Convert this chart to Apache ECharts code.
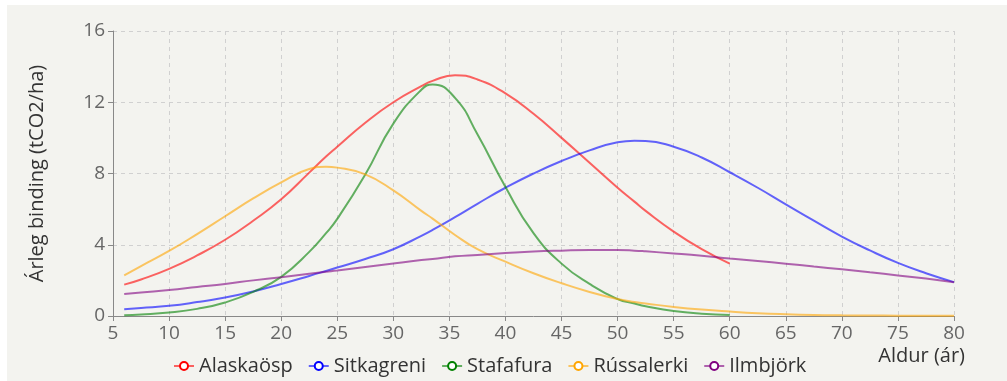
<!DOCTYPE html>
<html>
<head>
<meta charset="utf-8">
<script src="https://cdn.jsdelivr.net/npm/echarts@6/dist/echarts.min.js"></script>
<style>
  html, body { margin: 0; padding: 0; background: #ffffff; }
  #chart {
    position: absolute;
    left: 7px;
    top: 5px;
    width: 1000px;
    height: 376px;
    background: #f3f3ef;
  }
</style>
</head>
<body>
<div id="chart"></div>
<script>
// aldur (ár)
var ages = [6, 7.5, 10, 12.5, 15, 17.5, 20, 22.5, 24, 25, 27.5, 30, 32.5, 33.5, 35.5, 37.5, 40,
  42.5, 45, 47.5, 50, 51.5, 52.5, 55, 57.5, 60, 62.5, 65, 67.5, 70, 72.5, 75, 77.5, 80];

// árleg binding (tCO2/ha)
var alaskaosp = [1.76, 2.05, 2.65, 3.4, 4.28, 5.35, 6.55, 8.05, 8.95, 9.5, 10.85, 12.0, 12.9, 13.2, 13.52, 13.28, 12.5,
  11.35, 10.0, 8.6, 7.2, 6.42, 5.9, 4.74, 3.75, 2.94];
var sitkagreni = [0.38, 0.45, 0.57, 0.78, 1.04, 1.38, 1.8, 2.25, 2.53, 2.72, 3.2, 3.75, 4.5, 4.83, 5.55, 6.3, 7.2,
  8.0, 8.7, 9.3, 9.75, 9.84, 9.83, 9.5, 8.9, 8.07, 7.2, 6.27, 5.35, 4.46, 3.68, 2.98, 2.4, 1.9];
var stafafura = [0.04, 0.08, 0.19, 0.4, 0.76, 1.35, 2.2, 3.6, 4.65, 5.45, 7.95, 10.8, 12.7, 13.0, 12.25, 10.2, 7.24,
  4.65, 2.94, 1.8, 0.95, 0.7, 0.55, 0.28, 0.13, 0.06];
var russalerki = [2.28, 2.8, 3.65, 4.6, 5.6, 6.6, 7.5, 8.25, 8.38, 8.33, 7.95, 7.05, 5.9, 5.47, 4.55, 3.75, 3.05,
  2.4, 1.84, 1.35, 0.95, 0.78, 0.7, 0.51, 0.36, 0.25, 0.16, 0.1, 0.06, 0.04, 0.03, 0.02, 0.01, 0.01];
var ilmbjork = [1.23, 1.32, 1.46, 1.63, 1.8, 2.0, 2.18, 2.37, 2.48, 2.55, 2.75, 2.95, 3.14, 3.2, 3.35, 3.43, 3.53,
  3.62, 3.67, 3.7, 3.7, 3.67, 3.63, 3.51, 3.38, 3.23, 3.09, 2.94, 2.78, 2.62, 2.45, 2.28, 2.1, 1.9];

var seriesNames = ['Alaskaösp', 'Sitkagreni', 'Stafafura', 'Rússalerki', 'Ilmbjörk'];
var seriesValues = [alaskaosp, sitkagreni, stafafura, russalerki, ilmbjork];
var colors = ['#ff0000', '#0000ff', '#008000', '#ffa500', '#800080'];

var xTicks = { min: 5, max: 80, interval: 5 };
var yTicks = { min: 0, max: 16, interval: 4 };

function pairs(values) {
  var out = [];
  for (var i = 0; i < values.length; i++) {
    out.push([ages[i], values[i]]);
  }
  return out;
}

var fontFamily = '"Open Sans", sans-serif';

var myChart = echarts.init(document.getElementById('chart'));

var options = {
  backgroundColor: 'transparent',
  color: colors,
  textStyle: { fontFamily: fontFamily },
  animation: false,
  grid: {
    left: 106,
    top: 26,
    right: 53,
    bottom: 65
  },
  legend: {
    left: 161,
    top: 346,
    itemWidth: 20,
    itemHeight: 10,
    itemGap: 15,
    textStyle: {
      color: '#333',
      fontSize: 20,
      fontFamily: fontFamily
    },
    data: seriesNames
  },
  xAxis: {
    type: 'value',
    min: xTicks.min,
    max: xTicks.max,
    interval: xTicks.interval,
    name: 'Aldur (ár)',
    nameLocation: 'end',
    nameGap: 11,
    nameTextStyle: {
      color: '#333',
      fontSize: 20,
      align: 'right',
      verticalAlign: 'top',
      padding: [30, 0, 0, 0]
    },
    axisLine: { lineStyle: { color: '#888', width: 1 } },
    axisTick: { show: true, length: 5, lineStyle: { color: '#888' } },
    axisLabel: { color: '#666', fontSize: 19, margin: 8 },
    splitLine: { show: true, lineStyle: { color: '#d0d0d0', type: [4, 4] } }
  },
  yAxis: {
    type: 'value',
    min: yTicks.min,
    max: yTicks.max,
    interval: yTicks.interval,
    name: 'Árleg binding (tCO2/ha)',
    nameLocation: 'middle',
    nameGap: 66,
    nameTextStyle: { color: '#333', fontSize: 20 },
    axisLine: { show: true, lineStyle: { color: '#888', width: 1 } },
    axisTick: { show: true, length: 5, lineStyle: { color: '#888' } },
    axisLabel: { color: '#666', fontSize: 19, margin: 8 },
    splitLine: { show: true, lineStyle: { color: '#d0d0d0', type: [4, 4] } }
  },
  series: seriesNames.map(function (name, i) {
    return {
      name: name,
      type: 'line',
      smooth: 0.5,
      symbol: 'emptyCircle',
      symbolSize: 5,
      showSymbol: false,
      lineStyle: { width: 2, opacity: 0.6 },
      data: pairs(seriesValues[i])
    };
  })
};

myChart.setOption(options);
</script>
</body>
</html>
